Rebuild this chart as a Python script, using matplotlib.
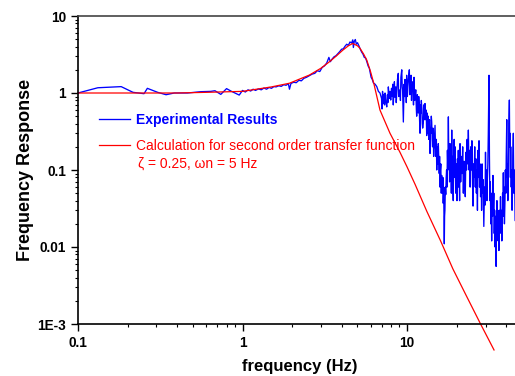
import matplotlib
matplotlib.use('Agg')
import matplotlib.pyplot as plt
from matplotlib.lines import Line2D
from matplotlib.ticker import FixedLocator, FixedFormatter, LogLocator, NullFormatter

plt.rcParams['font.family'] = ['Liberation Sans', 'DejaVu Sans']

# calculated second order transfer function
calc_freq = [0.1, 0.2, 0.4, 0.6, 1.0, 1.5, 1.93, 2.55, 3.0, 3.38, 3.7, 4.07, 4.4,
             4.68, 5.0, 5.18, 5.45, 5.69, 6.0, 6.3, 6.85, 7.88, 9.06, 10.0,
             11.2, 13.2, 16.0, 19.0, 23.0, 28.0, 33.8]
calc_resp = [1.0, 1.0, 1.0, 1.02, 1.05, 1.2, 1.34, 1.71, 2.1, 2.55, 3.0, 3.6, 4.1,
             4.4, 4.1, 3.8, 3.2, 2.68, 1.9, 1.3, 0.6, 0.3, 0.17, 0.11,
             0.065, 0.029, 0.012, 0.0052, 0.0023, 0.001, 0.00046]

# experimental results, 0.1 - 6.85 Hz
low_freq = [
    0.1, 0.132, 0.183, 0.216, 0.252, 0.264, 0.305, 0.343, 0.385, 0.463, 0.558,
    0.642, 0.68, 0.738, 0.8, 0.85, 0.955,
    1.0, 1.04, 1.08, 1.12, 1.16, 1.2, 1.25, 1.3, 1.35, 1.4, 1.45, 1.5, 1.55,
    1.6, 1.66, 1.72, 1.78, 1.84, 1.9, 1.93, 1.97, 2.05, 2.12, 2.2, 2.28, 2.36,
    2.45, 2.55, 2.65, 2.75, 2.85, 2.95, 3.05, 3.15, 3.25, 3.35, 3.42, 3.5,
    3.6, 3.7, 3.8, 3.9, 4.0, 4.1, 4.2, 4.3, 4.4, 4.5, 4.6, 4.68, 4.72, 4.78,
    4.85, 4.92, 5.0, 5.1, 5.2, 5.3, 5.4, 5.5, 5.6, 5.7, 5.8, 5.9, 5.96, 6.05,
    6.15, 6.25, 6.4, 6.55, 6.7, 6.85]
low_resp = [
    1.0, 1.17, 1.21, 1.02, 0.98, 1.15, 1.02, 0.95, 1.0, 1.0, 1.04,
    1.05, 1.07, 0.96, 1.14, 1.06, 0.94,
    1.08, 1.03, 1.10, 1.06, 1.12, 1.08, 1.13, 1.10, 1.16, 1.12, 1.18, 1.15, 1.21,
    1.20, 1.24, 1.22, 1.28, 1.26, 1.32, 1.12, 1.33, 1.38, 1.36, 1.46, 1.44, 1.55,
    1.60, 1.68, 1.76, 1.80, 1.95, 1.90, 2.15, 2.25, 2.45, 2.9, 2.55, 2.75,
    2.95, 3.05, 3.25, 3.45, 3.70, 3.75, 4.05, 4.30, 4.15, 4.60, 4.45, 4.90, 3.90, 4.70,
    4.95, 4.30, 4.50, 4.10, 3.70, 3.40, 3.20, 2.90, 2.85, 2.55, 2.25, 2.10, 1.89, 1.60,
    1.50, 1.35, 1.30, 1.21, 1.05, 1.0]

# experimental results, 7 - 11.1 Hz
mid_freq = [7.0, 7.05, 7.1, 7.18, 7.26, 7.3, 7.35, 7.43, 7.53, 7.6,
            7.65, 7.7, 7.8, 7.88, 7.96, 8.05, 8.12, 8.19, 8.25, 8.3,
            8.38, 8.45, 8.55, 8.6, 8.65, 8.75, 8.85, 8.9, 8.95, 9.07,
            9.12, 9.18, 9.29, 9.35, 9.4, 9.5, 9.6, 9.66, 9.72, 9.85,
            9.9, 9.95, 10.05, 10.12, 10.2, 10.33, 10.4, 10.45, 10.58, 10.65,
            10.7, 10.85, 10.95, 11.03, 11.12]
mid_resp = [0.85, 0.62, 1.05, 0.73, 0.95, 0.7, 1.0, 0.78, 0.66, 0.95,
            0.75, 1.2, 0.85, 1.05, 0.81, 1.15, 0.9, 1.3, 0.7, 0.95,
            1.4, 0.88, 1.2, 0.75, 0.95, 1.5, 1.8, 0.9, 1.0, 1.1,
            0.8, 1.6, 2.0, 1.2, 1.1, 0.42, 1.3, 0.9, 1.5, 1.1,
            0.75, 1.7, 0.9, 1.2, 1.5, 2.0, 0.95, 1.2, 1.7, 0.8,
            1.1, 1.4, 0.7, 1.6, 0.8]

# experimental results, 11.2 - 21 Hz
band_freq = [11.2, 11.3, 11.4, 11.45, 11.55, 11.6, 11.7, 11.78, 11.85, 11.92,
             12.0, 12.08, 12.15, 12.22, 12.3, 12.38, 12.45, 12.56, 12.62, 12.7,
             12.78, 12.86, 12.93, 13.0, 13.08, 13.17, 13.25, 13.3, 13.4, 13.47,
             13.55, 13.6, 13.7, 13.8, 13.88, 13.95, 14.05, 14.13, 14.22, 14.3,
             14.38, 14.45, 14.52, 14.6, 14.7, 14.8, 14.9, 15.0, 15.08, 15.16,
             15.24, 15.3, 15.4, 15.5, 15.6, 15.7, 15.78, 15.87, 15.95, 16.05,
             16.15, 16.25, 16.35, 16.45, 16.52, 16.6, 16.7, 16.85, 16.92, 17.0,
             17.1, 17.2, 17.3, 17.4, 17.5, 17.6, 17.72, 17.84, 17.95, 18.05,
             18.15, 18.26, 18.38, 18.5, 18.6, 18.7, 18.8, 18.9, 19.0, 19.1,
             19.22, 19.35, 19.48, 19.6, 19.7, 19.8, 19.9, 20.0, 20.12, 20.25,
             20.38, 20.5, 20.62, 20.75, 20.88]
band_resp = [0.9, 1.1, 0.6, 0.5, 0.95, 0.85, 0.55, 0.9, 0.75, 0.45,
             0.30, 0.7, 0.55, 0.8, 0.63, 0.4, 0.35, 0.40, 0.7, 0.6,
             0.45, 0.73, 0.5, 0.45, 0.6, 0.28, 0.55, 0.45, 0.3, 0.5,
             0.25, 0.3, 0.45, 0.164, 0.35, 0.3, 0.5, 0.42, 0.25, 0.2,
             0.35, 0.28, 0.15, 0.2, 0.3, 0.38, 0.2, 0.15, 0.25, 0.10,
             0.18, 0.2, 0.12, 0.22, 0.14, 0.09, 0.15, 0.06, 0.1, 0.12,
             0.05, 0.085, 0.06, 0.05, 0.08, 0.037, 0.06, 0.011, 0.025, 0.03,
             0.06, 0.048, 0.08, 0.1, 0.06, 0.18, 0.1, 0.49, 0.12, 0.15,
             0.07, 0.22, 0.1, 0.12, 0.05, 0.33, 0.08, 0.15, 0.06, 0.04,
             0.12, 0.25, 0.08, 0.2, 0.1, 0.05, 0.12, 0.07, 0.04, 0.14,
             0.07, 0.18, 0.06, 0.09, 0.04]

# experimental results, 21 - 50 Hz
high_freq = [21.0, 21.2, 21.4, 21.6, 21.8, 22.0, 22.2, 22.4, 22.6, 22.8,
             23.0, 23.2, 23.4, 23.6, 23.8, 24.0, 24.2, 24.4, 24.6, 24.8,
             25.0, 25.2, 25.4, 25.6, 25.8, 26.0, 26.2, 26.4, 26.6, 26.8,
             27.0, 27.2, 27.4, 27.6, 27.8, 28.0, 28.2, 28.4, 28.6, 28.8,
             29.0, 29.3, 29.6, 29.8, 30.0, 30.2, 30.4, 30.6, 30.8, 31.0,
             31.2, 31.5, 31.7, 31.9, 32.1, 32.3, 32.5, 32.7, 32.9, 33.1,
             33.3, 33.5, 33.7, 33.9, 34.1, 34.3, 34.5, 34.8, 35.0, 35.2,
             35.4, 35.6, 35.8, 36.0, 36.2, 36.4, 36.7, 37.0, 37.2, 37.4,
             37.7, 37.9, 38.1, 38.3, 38.5, 38.7, 38.9, 39.1, 39.4, 39.6,
             39.9, 40.1, 40.4, 40.6, 40.8, 41.0, 41.3, 41.6, 41.9, 42.1,
             42.3, 42.5, 42.7, 43.0, 43.2, 43.5, 43.7, 44.0, 44.3, 44.6,
             44.8, 45.1, 45.4, 46.0, 47.0, 48.0, 50.0]
high_resp = [0.22, 0.07, 0.15, 0.09, 0.2, 0.05, 0.13, 0.08, 0.045, 0.17,
             0.1, 0.25, 0.12, 0.33, 0.1, 0.18, 0.06, 0.2, 0.1, 0.24,
             0.07, 0.034, 0.12, 0.08, 0.2, 0.06, 0.14, 0.05, 0.1, 0.03,
             0.18, 0.08, 0.24, 0.06, 0.12, 0.045, 0.09, 0.03, 0.12, 0.05,
             0.075, 0.0185, 0.06, 0.035, 0.17, 0.05, 0.1, 0.04, 0.075, 0.12,
             0.3, 1.7, 0.15, 0.04, 0.07, 0.02, 0.05, 0.012, 0.04, 0.025,
             0.085, 0.03, 0.05, 0.015, 0.03, 0.01, 0.025, 0.0056, 0.02, 0.04,
             0.015, 0.03, 0.012, 0.025, 0.009, 0.03, 0.015, 0.045, 0.02, 0.03,
             0.012, 0.016, 0.05, 0.025, 0.092, 0.03, 0.06, 0.02, 0.04, 0.1,
             0.05, 0.15, 0.45, 0.08, 0.12, 0.04, 0.1, 0.4, 0.81, 0.2,
             0.3, 0.08, 0.2, 0.06, 0.1, 0.03, 0.045, 0.15, 0.3, 0.05,
             0.06, 0.1, 0.022, 0.1, 0.04, 0.12, 0.05]

exp_freq = low_freq + mid_freq + band_freq + high_freq
exp_resp = low_resp + mid_resp + band_resp + high_resp

y_ticks = [1e-3, 1e-2, 0.1, 1, 10]
y_tick_labels = ['1E-3', '0.01', '0.1', '1', '10']
x_ticks = [0.1, 1, 10]
x_tick_labels = ['0.1', '1', '10']

fig = plt.figure(figsize=(5.15, 3.76), dpi=100)
ax = fig.add_axes([78 / 515, 1 - 324 / 376, 444 / 515, 308 / 376])

ax.plot(exp_freq, exp_resp, color='blue', linewidth=0.95)
ax.plot(calc_freq, calc_resp, color='red', linewidth=0.9, clip_on=False)

ax.set_xscale('log')
ax.set_yscale('log')
ax.set_xlim(0.1, 50)
ax.set_ylim(1e-3, 10)

ax.yaxis.set_major_locator(FixedLocator(y_ticks))
ax.yaxis.set_major_formatter(FixedFormatter(y_tick_labels))
ax.xaxis.set_major_locator(FixedLocator(x_ticks))
ax.xaxis.set_major_formatter(FixedFormatter(x_tick_labels))
ax.xaxis.set_minor_locator(LogLocator(base=10, subs=range(2, 10)))
ax.yaxis.set_minor_locator(LogLocator(base=10, subs=range(2, 10)))
ax.xaxis.set_minor_formatter(NullFormatter())
ax.yaxis.set_minor_formatter(NullFormatter())

ax.tick_params(which='major', direction='out', length=5, width=1.0,
               labelsize=9.8, pad=3.5)
ax.tick_params(which='minor', direction='out', length=2.5, width=0.8)
ax.tick_params(top=False, right=False, which='both')
for lab in ax.get_xticklabels() + ax.get_yticklabels():
    lab.set_fontweight('bold')

ax.spines['right'].set_visible(False)
ax.spines['left'].set_linewidth(1.2)
ax.spines['bottom'].set_linewidth(1.2)
ax.spines['top'].set_linewidth(1.2)
ax.spines['top'].set_color('#444444')

ax.set_xlabel('frequency (Hz)', fontsize=12, fontweight='bold')
ax.set_ylabel('Frequency Response', fontsize=13, fontweight='bold')
ax.xaxis.set_label_coords(222 / 444, -35 / 308)
ax.yaxis.set_label_coords(-44 / 444, 0.5)

handles = [Line2D([], [], color='blue', linewidth=0.95),
           Line2D([], [], color='red', linewidth=0.9)]
leg = ax.legend(handles, ['Experimental Results',
                          'Calculation for second order transfer function'],
                loc='upper left', bbox_to_anchor=(21 / 444, 0.685),
                frameon=False, fontsize=10, handlelength=2.25,
                handletextpad=0.43, labelspacing=0.85, borderpad=0,
                borderaxespad=0)
leg.get_texts()[0].set_color('blue')
leg.get_texts()[0].set_fontweight('bold')
leg.get_texts()[1].set_color('red')
ax.text(60 / 444, (324 - 164) / 308, '\u03b6 = 0.25, \u03c9n = 5 Hz',
        transform=ax.transAxes, color='red', fontsize=10, va='center')

fig.savefig('out.png', dpi=100)
